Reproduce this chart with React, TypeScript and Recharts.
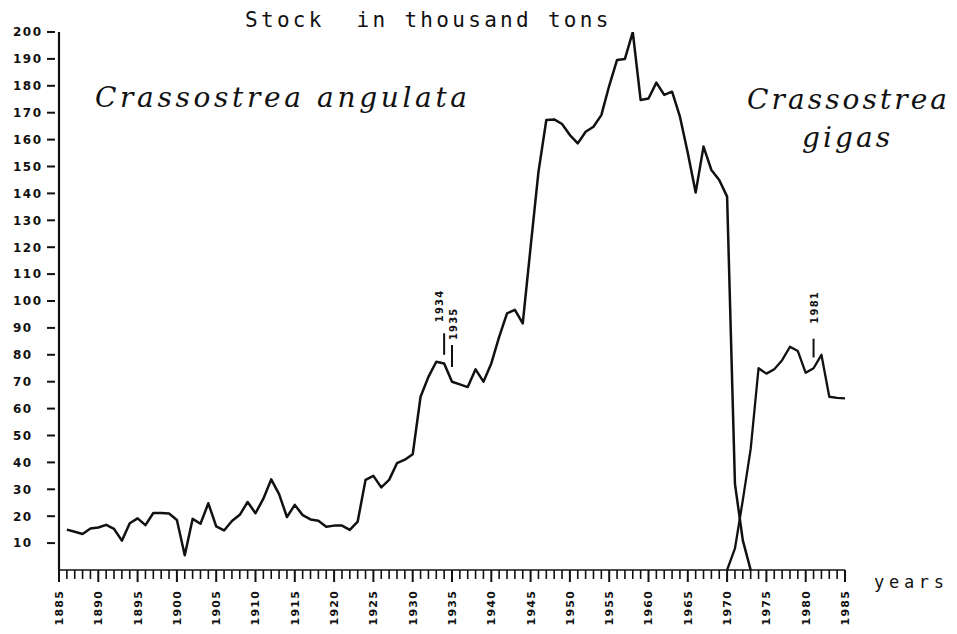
import React from 'react';
import { LineChart, Line, XAxis, YAxis, ReferenceLine } from 'recharts';

// Crassostrea angulata stock (thousand tons), yearly from 1886
const angulataStartYear = 1886;
const angulataValues = [
  15, 14.2, 13.4, 15.4, 15.8, 16.8, 15.3, 10.9, 17.4, 19.2, // 1886-1895
  16.7, 21.2, 21.2, 21, 18.6, 5.5, 19, 17.2, 24.8, 16.2, // 1896-1905
  14.7, 18.2, 20.5, 25.3, 21.1, 26.5, 33.7, 28.2, 19.7, 24.2, // 1906-1915
  20.4, 18.8, 18.3, 16.1, 16.5, 16.5, 14.9, 18, 33.5, 35, // 1916-1925
  30.7, 33.5, 39.7, 41, 43, 64.4, 71.8, 77.4, 76.8, 70, // 1926-1935
  69, 68, 74.6, 70, 76.8, 86.7, 95.4, 96.7, 91.7, 120, // 1936-1945
  148, 167.3, 167.5, 165.8, 161.7, 158.6, 162.9, 164.8, 169.1, 180, // 1946-1955
  189.6, 190, 200, 174.7, 175.3, 181.2, 176.6, 177.8, 168.5, 155, // 1956-1965
  140.3, 157.4, 148.7, 145, 138.8, 32, 11, 0, // 1966-1973
];

// Crassostrea gigas stock (thousand tons), yearly from 1970
const gigasStartYear = 1970;
const gigasValues = [0, 8, 26, 45, 75, 73, 74.6, 78, 83, 81.4, 73.3, 75, 80, 64.4, 64, 63.8];

const yTicks = [10, 20, 30, 40, 50, 60, 70, 80, 90, 100, 110, 120, 130, 140, 150, 160, 170, 180, 190, 200];
const firstYear = 1885;
const lastYear = 1985;
const yearTicks: number[] = [];
for (let y = firstYear; y <= lastYear; y++) yearTicks.push(y);

// annotations: year, marker bottom, marker top
const annoYears = [1934, 1935, 1981];
const annoLow = [80, 75.5, 79];
const annoHigh = [88, 83.6, 86];
const annoDx = [-5, 1, 1];
const annoGap = [11, 5, 15];

const angulataData = angulataValues.map((v, i) => ({ year: angulataStartYear + i, stock: v }));
const gigasData = gigasValues.map((v, i) => ({ year: gigasStartYear + i, stock: v }));

const INK = '#111';

const XTick = (props: any) => {
  const { x, y, payload } = props;
  const v = payload.value as number;
  const major = v % 5 === 0;
  return (
    <g>
      <line x1={x} x2={x} y1={y} y2={y + (major ? 12 : 9)} stroke={INK} strokeWidth={major ? 2 : 1.6} />
      {major && (
        <text
          transform={`translate(${x},${y + 20}) rotate(-90)`}
          textAnchor="end"
          dy="0.36em"
          fontFamily="DejaVu Sans"
          fontWeight="bold"
          fontSize={11}
          letterSpacing={1.2}
          fill={INK}
        >
          {v}
        </text>
      )}
    </g>
  );
};

const YTick = (props: any) => {
  const { x, y, payload } = props;
  return (
    <g>
      <line x1={x - 12} x2={x - 4} y1={y} y2={y} stroke={INK} strokeWidth={2} />
      <text
        x={13}
        y={y}
        dy="0.36em"
        textAnchor="start"
        fontFamily="DejaVu Sans"
        fontWeight="bold"
        fontSize={12}
        letterSpacing={1.5}
        fill={INK}
      >
        {payload.value}
      </text>
    </g>
  );
};

const makeAnnoLabel = (text: string, dx: number, gap: number) => (props: any) => {
  const vb = props.viewBox || {};
  const x = (vb.x ?? 0) + dx;
  const y = (vb.y ?? 0) - gap;
  return (
    <text
      transform={`translate(${x},${y}) rotate(-90)`}
      textAnchor="start"
      dy="0.36em"
      fontFamily="DejaVu Sans"
      fontWeight="bold"
      fontSize={10}
      letterSpacing={1.2}
      fill={INK}
    >
      {text}
    </text>
  );
};

export default function App() {
  return (
    <div style={{ position: 'absolute', left: 0, top: 0, width: 957, height: 634, background: '#fff' }}>
      <LineChart width={957} height={634} margin={{ top: 32, right: 112, bottom: 0, left: 0 }}>
        <XAxis
          type="number"
          dataKey="year"
          domain={[firstYear, lastYear]}
          ticks={yearTicks}
          interval={0}
          allowDataOverflow
          height={64}
          tickSize={0}
          tickMargin={0}
          tickLine={false}
          axisLine={{ stroke: INK, strokeWidth: 1.6 }}
          tick={<XTick />}
        />
        <YAxis
          type="number"
          domain={[0, 200]}
          ticks={yTicks}
          interval={0}
          allowDataOverflow
          width={59}
          tickSize={0}
          tickMargin={0}
          tickLine={false}
          axisLine={{ stroke: INK, strokeWidth: 2.2 }}
          tick={<YTick />}
        />
        {annoYears.map((yr, i) => (
          <ReferenceLine
            key={yr}
            segment={[
              { x: yr, y: annoLow[i] },
              { x: yr, y: annoHigh[i] },
            ]}
            stroke={INK}
            strokeWidth={2}
            label={makeAnnoLabel(String(yr), annoDx[i], annoGap[i])}
          />
        ))}
        <Line
          data={angulataData}
          dataKey="stock"
          type="linear"
          stroke={INK}
          strokeWidth={2.5}
          strokeLinejoin="round"
          dot={false}
          isAnimationActive={false}
        />
        <Line
          data={gigasData}
          dataKey="stock"
          type="linear"
          stroke={INK}
          strokeWidth={2.3}
          strokeLinejoin="round"
          dot={false}
          isAnimationActive={false}
        />
      </LineChart>
      <svg
        width={957}
        height={634}
        style={{ position: 'absolute', left: 0, top: 0, pointerEvents: 'none' }}
      >
        <text x={245} y={27} fontFamily="DejaVu Sans Mono" fontSize={21} letterSpacing={3.3} fill={INK} style={{ whiteSpace: 'pre' }}>
          {'Stock  in thousand tons'}
        </text>
        <text x={95} y={107} fontFamily="DejaVu Serif" fontStyle="italic" fontSize={28} textLength={372} lengthAdjust="spacing" fill={INK}>
          Crassostrea angulata
        </text>
        <text x={747} y={109} fontFamily="DejaVu Serif" fontStyle="italic" fontSize={28} textLength={200} lengthAdjust="spacing" fill={INK}>
          Crassostrea
        </text>
        <text x={802} y={147} fontFamily="DejaVu Serif" fontStyle="italic" fontSize={28} textLength={88} lengthAdjust="spacing" fill={INK}>
          gigas
        </text>
        <text x={874} y={588} fontFamily="DejaVu Sans Mono" fontSize={17} textLength={70} lengthAdjust="spacing" fill={INK}>
          years
        </text>
      </svg>
    </div>
  );
}
